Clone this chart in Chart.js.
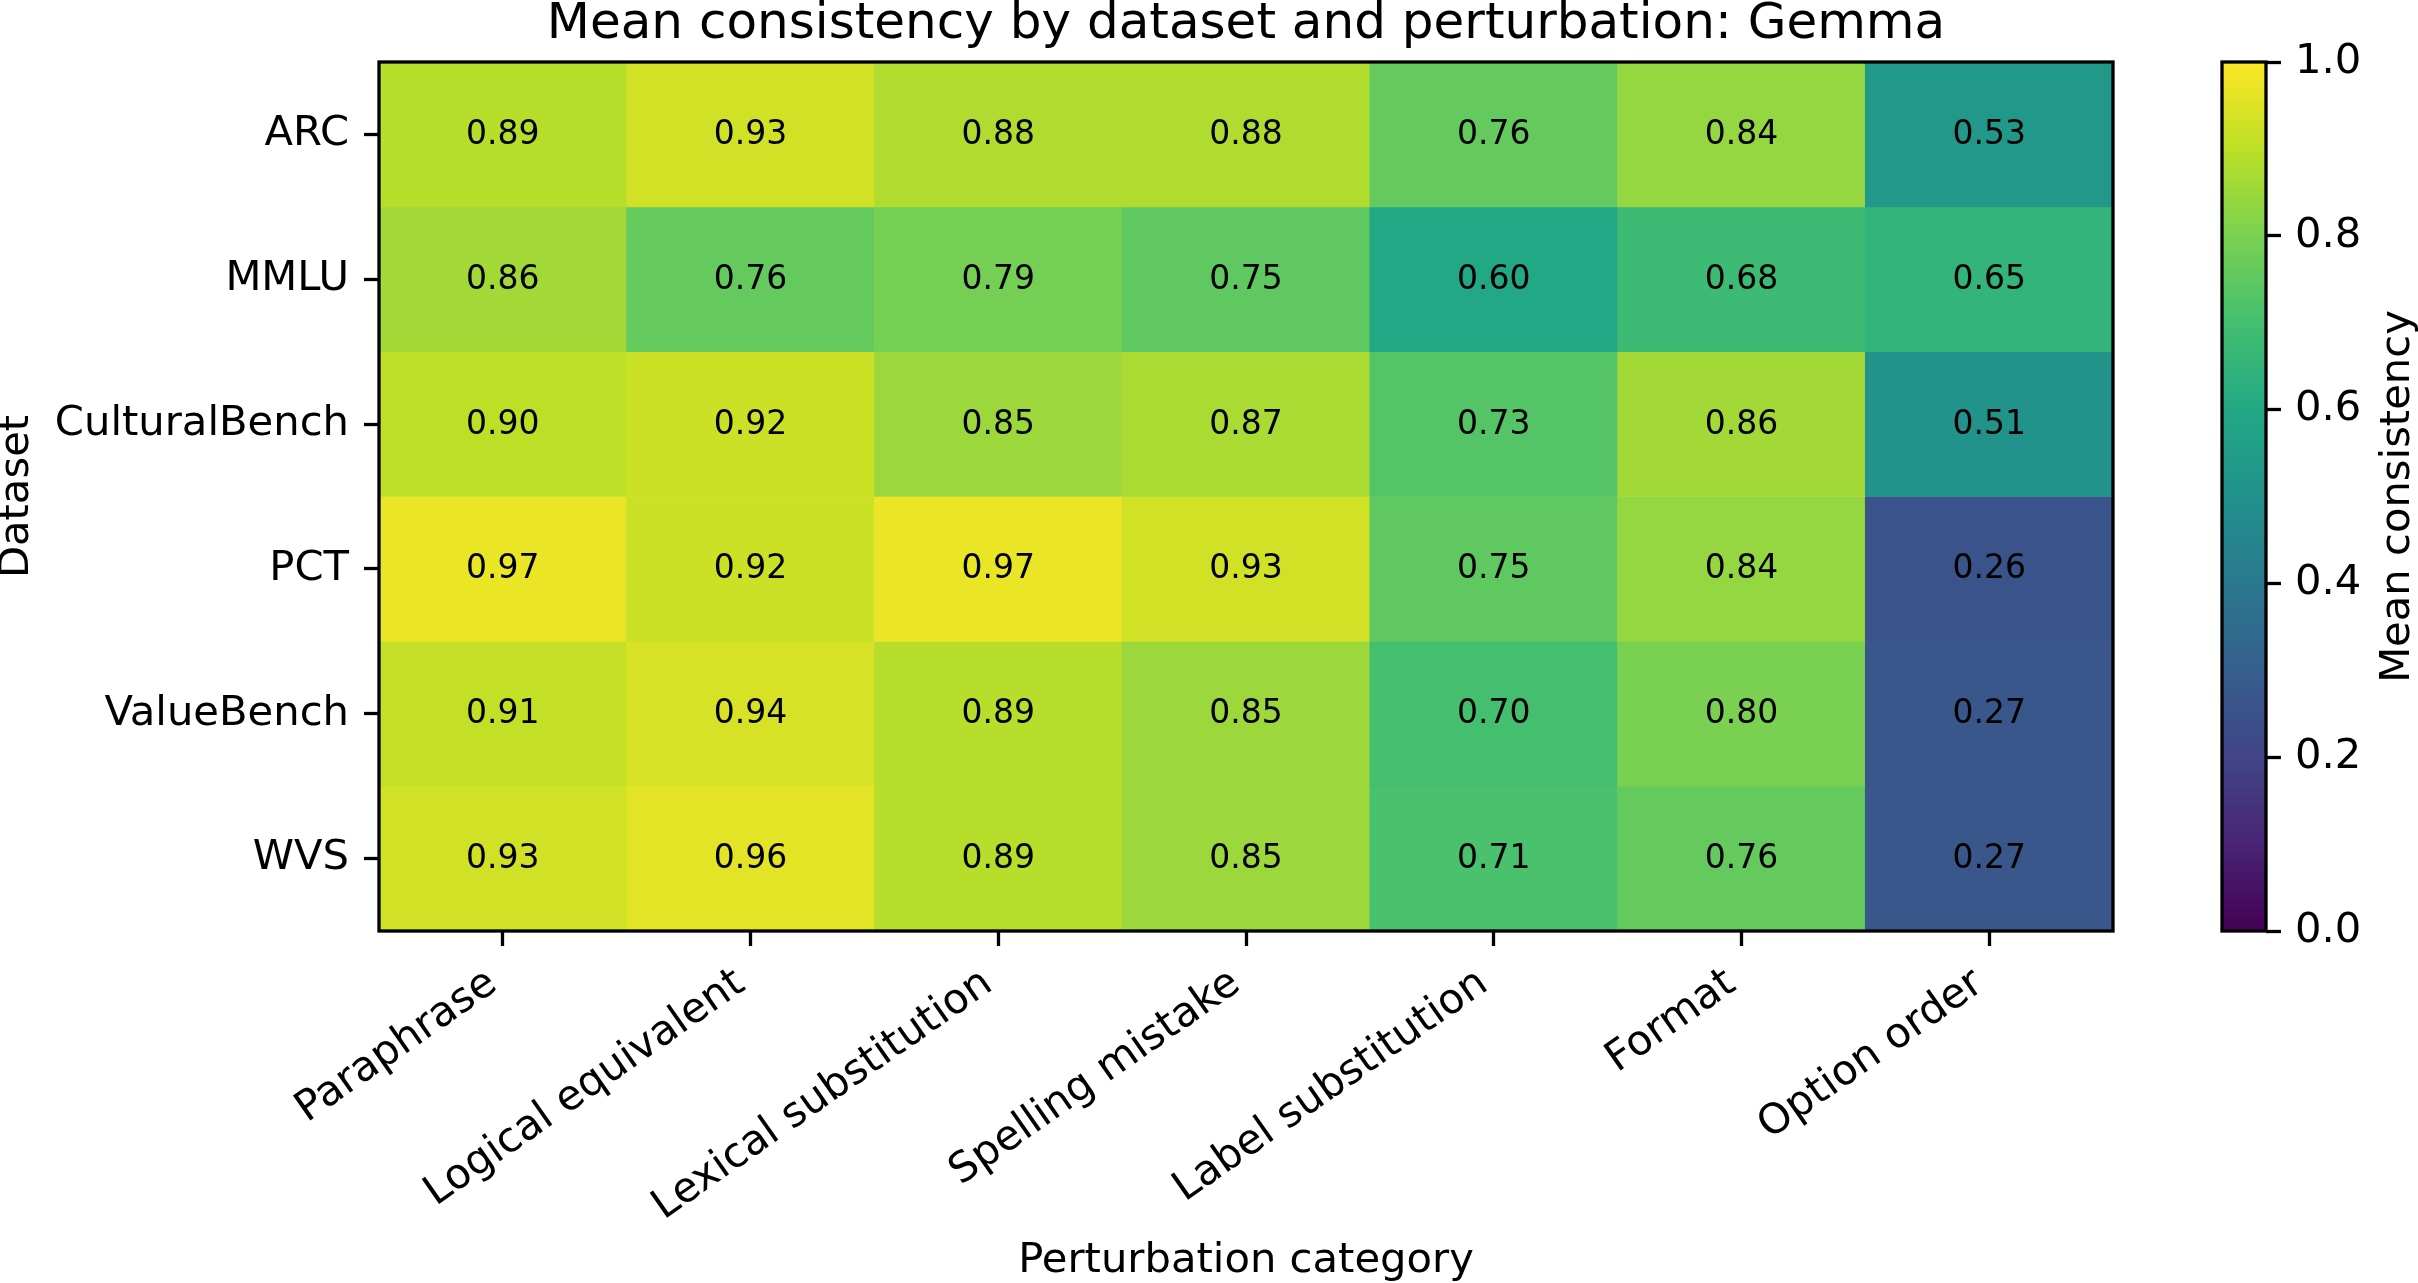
<!DOCTYPE html>
<html>
<head>
<meta charset="utf-8">
<script src="https://cdn.jsdelivr.net/npm/chart.js@4.4.1/dist/chart.umd.min.js"></script>
<style>
    html, body { margin: 0; padding: 0; background: #fff; }
    #wrap { position: relative; width: 2418px; height: 1283px; }
    #heat { position: absolute; left: 0; top: 0; }
    #cbar { position: absolute; left: 2150px; top: 0; }
</style>
</head>
<body>
<div id="wrap">
    <canvas id="heat" width="2418" height="1283"></canvas>
    <canvas id="cbar" width="268" height="1283"></canvas>
</div>
<script>
const perturbations = ["Paraphrase", "Logical equivalent", "Lexical substitution", "Spelling mistake",
    "Label substitution", "Format", "Option order"];
const datasetNames = ["ARC", "MMLU", "CulturalBench", "PCT", "ValueBench", "WVS"];

// mean consistency per dataset, one value per perturbation
const arcScores = [0.89, 0.93, 0.88, 0.88, 0.76, 0.84, 0.53];
const mmluScores = [0.86, 0.76, 0.79, 0.75, 0.60, 0.68, 0.65];
const culturalBenchScores = [0.90, 0.92, 0.85, 0.87, 0.73, 0.86, 0.51];
const pctScores = [0.97, 0.92, 0.97, 0.93, 0.75, 0.84, 0.26];
const valueBenchScores = [0.91, 0.94, 0.89, 0.85, 0.70, 0.80, 0.27];
const wvsScores = [0.93, 0.96, 0.89, 0.85, 0.71, 0.76, 0.27];
const scoreRows = [arcScores, mmluScores, culturalBenchScores, pctScores, valueBenchScores, wvsScores];

const colorbarTicks = [0, 0.2, 0.4, 0.6, 0.8, 1.0];

const FONT = "DejaVu Sans";
const LINE = 3.3;

// matplotlib viridis, 11 stops
const viridisStops = ["#440154", "#482475", "#414487", "#355f8d", "#2a788e", "#21918c",
    "#22a884", "#44bf70", "#7ad151", "#bddf26", "#fde725"];

function hexToRgb(h) {
    return [parseInt(h.slice(1, 3), 16), parseInt(h.slice(3, 5), 16), parseInt(h.slice(5, 7), 16)];
}

function viridis(v) {
    const t = Math.min(Math.max(v, 0), 1) * (viridisStops.length - 1);
    const i = Math.min(Math.floor(t), viridisStops.length - 2);
    const f = t - i;
    const a = hexToRgb(viridisStops[i]);
    const b = hexToRgb(viridisStops[i + 1]);
    const c = a.map((x, k) => Math.round(x + (b[k] - x) * f));
    return `rgb(${c[0]}, ${c[1]}, ${c[2]})`;
}

// black outline round the plot area, like matplotlib spines
const framePlugin = {
    id: "frame",
    afterDraw(chart) {
        const {ctx, chartArea: a} = chart;
        ctx.save();
        ctx.strokeStyle = "#000";
        ctx.lineWidth = LINE;
        ctx.strokeRect(a.left, a.top, a.right - a.left, a.bottom - a.top);
        ctx.restore();
    }
};

// value text in each cell
const cellTextPlugin = {
    id: "cellText",
    afterDatasetsDraw(chart) {
        const ctx = chart.ctx;
        ctx.save();
        ctx.fillStyle = "#000";
        ctx.font = `33px "${FONT}"`;
        ctx.textAlign = "center";
        ctx.textBaseline = "middle";
        chart.data.datasets.forEach((ds, r) => {
            chart.getDatasetMeta(r).data.forEach((bar, c) => {
                const p = bar.getCenterPoint();
                ctx.fillText(ds.scores[c].toFixed(2), p.x, p.y + 1);
            });
        });
        ctx.restore();
    }
};

const heatDatasets = datasetNames.map((name, r) => ({
    label: name,
    data: perturbations.map(() => [r, r + 1]),
    scores: scoreRows[r],
    backgroundColor: scoreRows[r].map(viridis),
    borderWidth: 0,
    barPercentage: 1,
    categoryPercentage: 1,
    grouped: false
}));

new Chart(document.getElementById("heat"), {
    type: "bar",
    data: {
        labels: perturbations,
        datasets: heatDatasets
    },
    options: {
        responsive: false,
        animation: false,
        devicePixelRatio: 1,
        layout: {
            padding: {left: 0, right: 305, top: 0, bottom: 0}
        },
        plugins: {
            legend: {display: false},
            tooltip: {enabled: false},
            title: {
                display: true,
                fullSize: false,
                text: "Mean consistency by dataset and perturbation: Gemma",
                color: "#000",
                font: {family: FONT, size: 50, weight: "normal", lineHeight: 1},
                padding: {top: 0, bottom: 12}
            }
        },
        scales: {
            x: {
                type: "category",
                offset: true,
                afterFit: (scale) => { scale.height = 352; },
                border: {display: false},
                grid: {
                    offset: false,
                    drawOnChartArea: false,
                    tickLength: 15,
                    tickWidth: LINE,
                    tickColor: "#000"
                },
                ticks: {
                    autoSkip: false,
                    minRotation: 35,
                    maxRotation: 35,
                    padding: 13,
                    labelOffset: -10,
                    color: "#000",
                    font: {family: FONT, size: 41.7}
                },
                title: {
                    display: true,
                    text: "Perturbation category",
                    color: "#000",
                    font: {family: FONT, size: 41.7, lineHeight: 1},
                    padding: {top: 0, bottom: 1}
                }
            },
            y: {
                type: "linear",
                min: 0,
                max: 6,
                reverse: true,
                afterBuildTicks: (scale) => {
                    scale.ticks = datasetNames.map((_, i) => ({value: i + 0.5}));
                },
                afterFit: (scale) => { scale.width = 379; },
                border: {display: false},
                grid: {
                    drawOnChartArea: false,
                    tickLength: 15,
                    tickWidth: LINE,
                    tickColor: "#000"
                },
                ticks: {
                    autoSkip: false,
                    padding: 15,
                    color: "#000",
                    font: {family: FONT, size: 41.7},
                    callback: (value, index) => datasetNames[index]
                },
                title: {
                    display: true,
                    text: "Dataset",
                    color: "#000",
                    font: {family: FONT, size: 41.7, lineHeight: 1},
                    padding: {top: -4, bottom: 0}
                }
            }
        }
    },
    plugins: [cellTextPlugin, framePlugin]
});

// colorbar label reads bottom to top, so draw it by hand
const cbarLabelPlugin = {
    id: "cbarLabel",
    afterDraw(chart) {
        const {ctx, chartArea: a} = chart;
        ctx.save();
        ctx.translate(248, (a.top + a.bottom) / 2);
        ctx.rotate(-Math.PI / 2);
        ctx.fillStyle = "#000";
        ctx.font = `41.7px "${FONT}"`;
        ctx.textAlign = "center";
        ctx.textBaseline = "middle";
        ctx.fillText("Mean consistency", 0, 0);
        ctx.restore();
    }
};

function viridisGradient(context) {
    const chart = context.chart;
    if (!chart.chartArea) {
        return null;
    }
    const y = chart.scales.y;
    const g = chart.ctx.createLinearGradient(0, y.getPixelForValue(0), 0, y.getPixelForValue(1));
    viridisStops.forEach((col, i) => g.addColorStop(i / (viridisStops.length - 1), col));
    return g;
}

new Chart(document.getElementById("cbar"), {
    type: "bar",
    data: {
        labels: [""],
        datasets: [{
            data: [[0, 1]],
            backgroundColor: viridisGradient,
            borderWidth: 0,
            barPercentage: 1,
            categoryPercentage: 1
        }]
    },
    options: {
        responsive: false,
        animation: false,
        devicePixelRatio: 1,
        layout: {
            padding: {left: 72, right: 0, top: 62, bottom: 352}
        },
        plugins: {
            legend: {display: false},
            tooltip: {enabled: false}
        },
        scales: {
            x: {display: false},
            y: {
                position: "right",
                min: 0,
                max: 1,
                afterBuildTicks: (scale) => {
                    scale.ticks = colorbarTicks.map((v) => ({value: v}));
                },
                afterFit: (scale) => { scale.width = 152; },
                border: {display: false},
                grid: {
                    drawOnChartArea: false,
                    tickLength: 15,
                    tickWidth: LINE,
                    tickColor: "#000"
                },
                ticks: {
                    padding: 14,
                    color: "#000",
                    font: {family: FONT, size: 41.7},
                    callback: (value) => value.toFixed(1)
                }
            }
        }
    },
    plugins: [framePlugin, cbarLabelPlugin]
});
</script>
</body>
</html>
